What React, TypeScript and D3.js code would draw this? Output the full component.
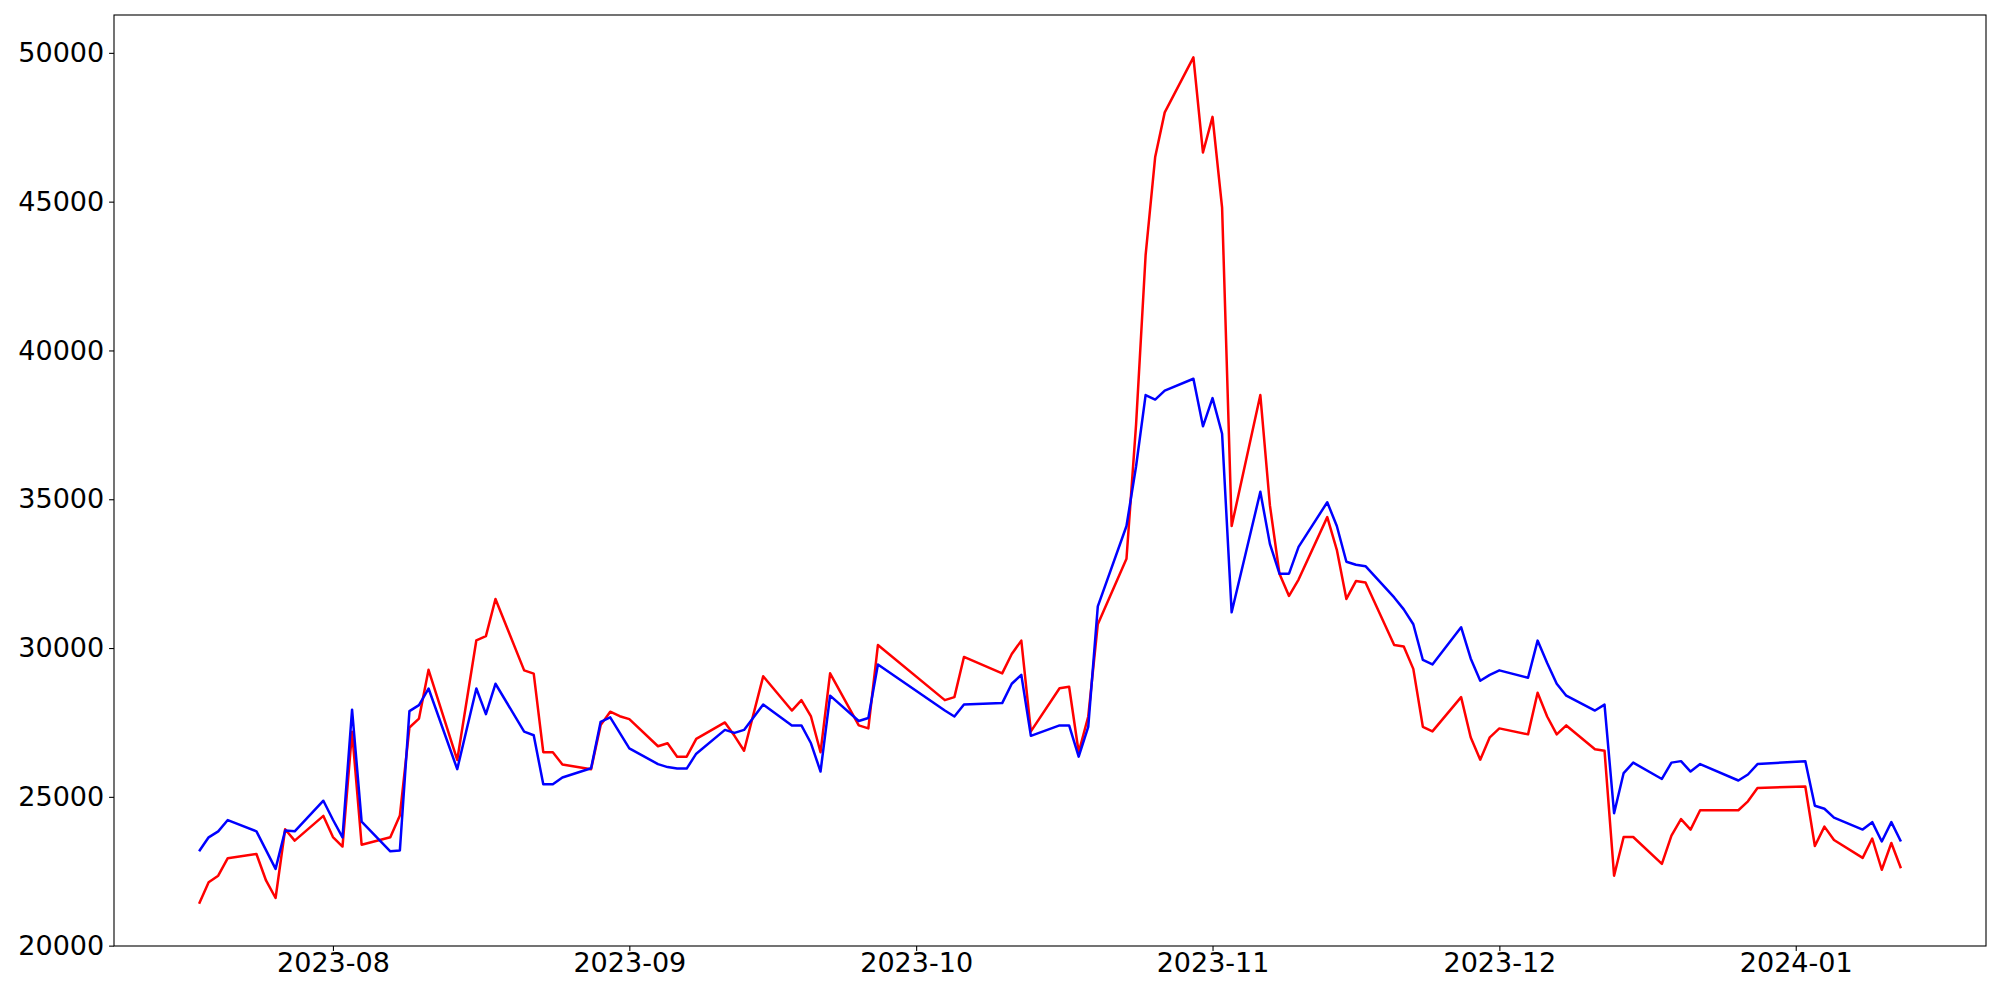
import React, { useEffect, useRef } from "react";
import * as d3 from "d3";

// dates of the points (trading days)
const dates = [
  "2023-07-18", "2023-07-19", "2023-07-20", "2023-07-21", "2023-07-24", "2023-07-25",
  "2023-07-26", "2023-07-27", "2023-07-28", "2023-07-31", "2023-08-01", "2023-08-02",
  "2023-08-03", "2023-08-04", "2023-08-07", "2023-08-08", "2023-08-09", "2023-08-10",
  "2023-08-11", "2023-08-14", "2023-08-16", "2023-08-17", "2023-08-18", "2023-08-21",
  "2023-08-22", "2023-08-23", "2023-08-24", "2023-08-25", "2023-08-28", "2023-08-29",
  "2023-08-30", "2023-08-31", "2023-09-01", "2023-09-04", "2023-09-05", "2023-09-06",
  "2023-09-07", "2023-09-08", "2023-09-11", "2023-09-12", "2023-09-13", "2023-09-15",
  "2023-09-18", "2023-09-19", "2023-09-20", "2023-09-21", "2023-09-22", "2023-09-25",
  "2023-09-26", "2023-09-27", "2023-10-04", "2023-10-05", "2023-10-06", "2023-10-10",
  "2023-10-11", "2023-10-12", "2023-10-13", "2023-10-16", "2023-10-17", "2023-10-18",
  "2023-10-19", "2023-10-20", "2023-10-23", "2023-10-24", "2023-10-25", "2023-10-26",
  "2023-10-27", "2023-10-30", "2023-10-31", "2023-11-01", "2023-11-02", "2023-11-03",
  "2023-11-06", "2023-11-07", "2023-11-08", "2023-11-09", "2023-11-10", "2023-11-13",
  "2023-11-14", "2023-11-15", "2023-11-16", "2023-11-17", "2023-11-20", "2023-11-21",
  "2023-11-22", "2023-11-23", "2023-11-24", "2023-11-27", "2023-11-28", "2023-11-29",
  "2023-11-30", "2023-12-01", "2023-12-04", "2023-12-05", "2023-12-06", "2023-12-07",
  "2023-12-08", "2023-12-11", "2023-12-12", "2023-12-13", "2023-12-14", "2023-12-15",
  "2023-12-18", "2023-12-19", "2023-12-20", "2023-12-21", "2023-12-22", "2023-12-26",
  "2023-12-27", "2023-12-28", "2024-01-02", "2024-01-03", "2024-01-04", "2024-01-05",
  "2024-01-08", "2024-01-09", "2024-01-10", "2024-01-11", "2024-01-12",
];

// red series
const redValues = [
  21410, 22130, 22350, 22940, 23080, 22190,
  21600, 23910, 23530, 24360, 23650, 23330,
  27190, 23390, 23640, 24370, 27330, 27630,
  29270, 26240, 30260, 30400, 31650, 29250,
  29140, 26500, 26500, 26090, 25930, 27410,
  27860, 27710, 27610, 26700, 26800, 26350,
  26350, 26950, 27500, 27050, 26550, 29050,
  27900, 28250, 27700, 26500, 29150, 27400,
  27300, 30100, 28250, 28350, 29700, 29150,
  29800, 30250, 27200, 28650, 28700, 26500,
  27700, 30800, 33000, 37500, 43200, 46500,
  48000, 49850, 46650, 47850, 44800, 34100,
  38500, 34800, 32500, 31750, 32300, 34400,
  33300, 31650, 32250, 32200, 30100, 30050,
  29300, 27350, 27200, 28350, 27000, 26250,
  27000, 27300, 27100, 28500, 27700, 27100,
  27400, 26600, 26550, 22350, 23650, 23650,
  22750, 23700, 24250, 23900, 24550, 24550,
  24850, 25300, 25350, 23350, 24000, 23550,
  22950, 23600, 22550, 23450, 22600,
];

// blue series
const blueValues = [
  23170, 23640, 23840, 24220, 23840, 23210,
  22580, 23870, 23840, 24870, 24230, 23640,
  27930, 24170, 23170, 23200, 27880, 28080,
  28640, 25930, 28640, 27780, 28800, 27190,
  27070, 25420, 25420, 25650, 25960, 27520,
  27670, 27150, 26630, 26100, 26000, 25950,
  25950, 26450, 27250, 27150, 27250, 28100,
  27400, 27400, 26800, 25850, 28400, 27550,
  27650, 29450, 27900, 27700, 28100, 28150,
  28800, 29100, 27050, 27400, 27400, 26350,
  27350, 31400, 34100, 36100, 38500, 38350,
  38650, 39050, 37450, 38400, 37200, 31200,
  35250, 33500, 32500, 32500, 33400, 34900,
  34100, 32900, 32800, 32750, 31700, 31300,
  30800, 29600, 29450, 30700, 29650, 28900,
  29100, 29250, 29000, 30250, 29500, 28800,
  28400, 27900, 28100, 24450, 25800, 26150,
  25600, 26150, 26200, 25850, 26100, 25550,
  25750, 26100, 26200, 24700, 24600, 24300,
  23900, 24150, 23500, 24150, 23500,
];

const yTicks = [20000, 25000, 30000, 35000, 40000, 45000, 50000];
const xTickLabels = ["2023-08", "2023-09", "2023-10", "2023-11", "2023-12", "2024-01"];

const WIDTH = 2000;
const HEIGHT = 1000;
const margin = { top: 15, right: 14, bottom: 54, left: 114 };

const App: React.FC = () => {
  const svgRef = useRef<SVGSVGElement>(null);

  useEffect(() => {
    if (!svgRef.current) return;
    const svg = d3.select(svgRef.current);
    svg.selectAll("*").remove();

    const parse = d3.timeParse("%Y-%m-%d");
    const xs = dates.map((d) => parse(d) as Date);
    const innerW = WIDTH - margin.left - margin.right;
    const innerH = HEIGHT - margin.top - margin.bottom;

    // matplotlib-like 5% padding around the data
    const [x0, x1] = d3.extent(xs) as [Date, Date];
    const xPad = (x1.getTime() - x0.getTime()) * 0.05;
    const x = d3
      .scaleTime()
      .domain([new Date(x0.getTime() - xPad), new Date(x1.getTime() + xPad)])
      .range([0, innerW]);

    const all = redValues.concat(blueValues);
    const yMin = d3.min(all) as number;
    const yMax = d3.max(all) as number;
    const yPad = (yMax - yMin) * 0.05;
    const y = d3
      .scaleLinear()
      .domain([yMin - yPad, yMax + yPad])
      .range([innerH, 0]);

    const g = svg
      .append("g")
      .attr("transform", `translate(${margin.left},${margin.top})`);

    const line = d3
      .line<number>()
      .x((_, i) => x(xs[i]))
      .y((v) => y(v));

    g.append("path")
      .datum(redValues)
      .attr("fill", "none")
      .attr("stroke", "#ff0000")
      .attr("stroke-width", 2.5)
      .attr("stroke-linejoin", "round")
      .attr("d", line);

    g.append("path")
      .datum(blueValues)
      .attr("fill", "none")
      .attr("stroke", "#0000ff")
      .attr("stroke-width", 2.5)
      .attr("stroke-linejoin", "round")
      .attr("d", line);

    // axes
    const monthParse = d3.timeParse("%Y-%m");
    const xAxis = d3
      .axisBottom(x)
      .tickValues(xTickLabels.map((t) => monthParse(t) as Date))
      .tickFormat((d) => d3.timeFormat("%Y-%m")(d as Date))
      .tickSize(4.9)
      .tickPadding(1.5);
    const yAxis = d3
      .axisLeft(y)
      .tickValues(yTicks)
      .tickFormat((d) => String(d))
      .tickSize(4.9)
      .tickPadding(4.9);

    const gx = g.append("g").attr("transform", `translate(0,${innerH})`).call(xAxis);
    const gy = g.append("g").call(yAxis);
    [gx, gy].forEach((ax) => {
      ax.select(".domain").remove();
      ax.selectAll("line").attr("stroke", "#000").attr("stroke-width", 1.1);
      ax.selectAll("text")
        .attr("fill", "#000")
        .style("font-family", "'DejaVu Sans', sans-serif")
        .style("font-size", "27px");
    });

    // frame
    g.append("rect")
      .attr("width", innerW)
      .attr("height", innerH)
      .attr("fill", "none")
      .attr("stroke", "#000")
      .attr("stroke-width", 1.1);
  }, []);

  return (
    <div style={{ position: "absolute", left: 0, top: 0, background: "#fff" }}>
      <svg ref={svgRef} width={WIDTH} height={HEIGHT} />
    </div>
  );
};

export default App;
